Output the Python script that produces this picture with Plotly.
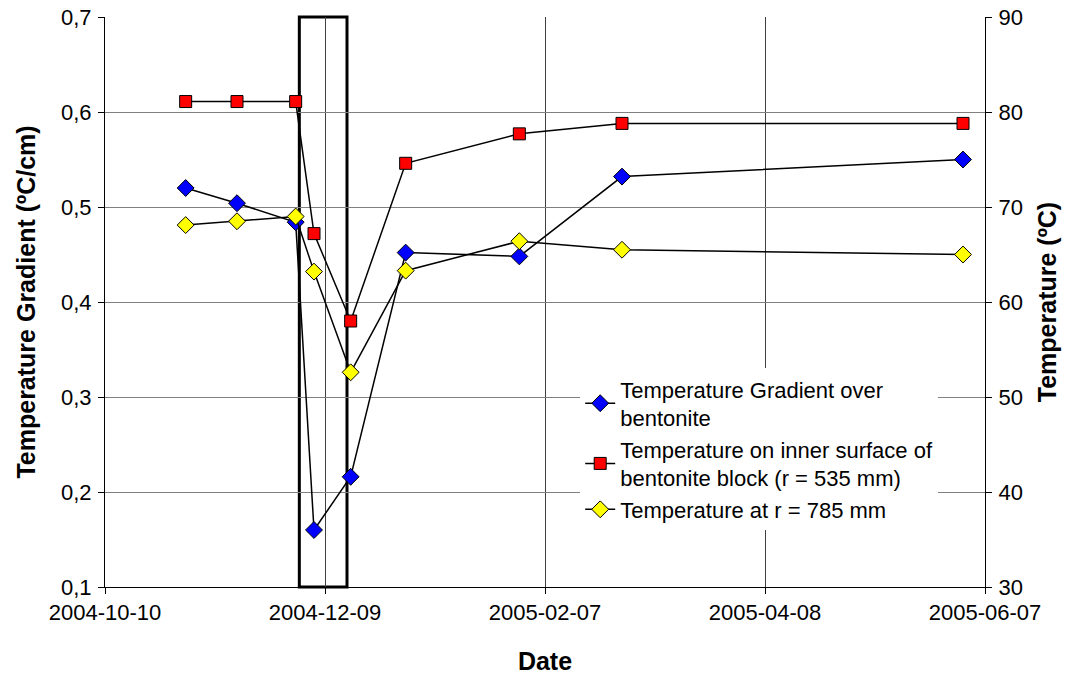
import plotly.graph_objects as go

dates = ["2004-11-01", "2004-11-15", "2004-12-01", "2004-12-06", "2004-12-16",
         "2004-12-31", "2005-01-31", "2005-02-28", "2005-06-01"]
gradient = [0.520, 0.504, 0.484, 0.160, 0.216, 0.452, 0.448, 0.532, 0.550]
temp_inner = [81.1, 81.1, 81.1, 67.2, 58.0, 74.6, 77.7, 78.8, 78.8]
temp_785 = [68.1, 68.5, 69.0, 63.2, 52.6, 63.3, 66.4, 65.5, 65.0]

x_ticks = ["2004-10-10", "2004-12-09", "2005-02-07", "2005-04-08", "2005-06-07"]
y_ticks = [0.1, 0.2, 0.3, 0.4, 0.5, 0.6, 0.7]
y2_ticks = [30, 40, 50, 60, 70, 80, 90]
box_range = ["2004-12-02", "2004-12-15"]

names = ["Temperature Gradient over<br>bentonite",
         "Temperature on inner surface of<br>bentonite block (r = 535 mm)",
         "Temperature at r = 785 mm"]

FONT = "Liberation Sans, Arial, sans-serif"
TICK = 22
TITLE = 25

fig = go.Figure()
fig.add_trace(go.Scatter(
    x=dates, y=gradient, name=names[0], mode="lines+markers", yaxis="y",
    line=dict(color="black", width=1.5),
    marker=dict(symbol="diamond", size=13, color="#0000FF", line=dict(color="black", width=1))))
fig.add_trace(go.Scatter(
    x=dates, y=temp_inner, name=names[1], mode="lines+markers", yaxis="y2",
    line=dict(color="black", width=1.5),
    marker=dict(symbol="square", size=12, color="#FF0000", line=dict(color="black", width=1))))
fig.add_trace(go.Scatter(
    x=dates, y=temp_785, name=names[2], mode="lines+markers", yaxis="y2",
    line=dict(color="black", width=1.5),
    marker=dict(symbol="diamond", size=13, color="#FFFF00", line=dict(color="black", width=1))))

fig.add_shape(type="rect", xref="x", yref="paper",
              x0=box_range[0], x1=box_range[1], y0=0, y1=1,
              line=dict(color="black", width=3), layer="between")

fig.update_layout(
    width=1066, height=675,
    margin=dict(l=105, r=81, t=17, b=88),
    paper_bgcolor="white", plot_bgcolor="white",
    separators=", ",
    font=dict(family=FONT, size=TICK, color="black"),
    showlegend=True,
    legend=dict(x=0.54, y=0.384, xanchor="left", yanchor="top",
                bgcolor="white", borderwidth=0,
                font=dict(family=FONT, size=TICK, color="black"),
                tracegroupgap=2),
    xaxis=dict(
        type="date", range=[x_ticks[0], x_ticks[-1]],
        tickvals=x_ticks, tickformat="%Y-%m-%d",
        showgrid=True, gridcolor="#404040", gridwidth=1,
        showline=True, linecolor="black", linewidth=1, mirror=False,
        ticks="outside", ticklen=6, tickcolor="black",
        tickfont=dict(size=TICK), automargin=False,
        title=dict(text="<b>Date</b>", font=dict(family=FONT, size=TITLE), standoff=28),
        zeroline=False),
    yaxis=dict(
        range=[0.1, 0.7], tickvals=y_ticks, tickformat=".1f",
        showgrid=True, gridcolor="#808080", gridwidth=1,
        showline=True, linecolor="black", linewidth=1,
        ticks="outside", ticklen=6, tickcolor="black",
        tickfont=dict(size=TICK), automargin=False, ticklabelstandoff=2,
        title=dict(text="<b>Temperature Gradient (ºC/cm)</b>", font=dict(family=FONT, size=TITLE), standoff=18),
        zeroline=False),
    yaxis2=dict(
        range=[30, 90], tickvals=y2_ticks, overlaying="y", side="right",
        showgrid=False,
        showline=True, linecolor="black", linewidth=1,
        ticks="outside", ticklen=6, tickcolor="black",
        tickfont=dict(size=TICK), automargin=False, ticklabelstandoff=2,
        title=dict(text="<b>Temperature (ºC)</b>", font=dict(family=FONT, size=TITLE), standoff=16),
        zeroline=False),
)

fig.write_html("out.html")
